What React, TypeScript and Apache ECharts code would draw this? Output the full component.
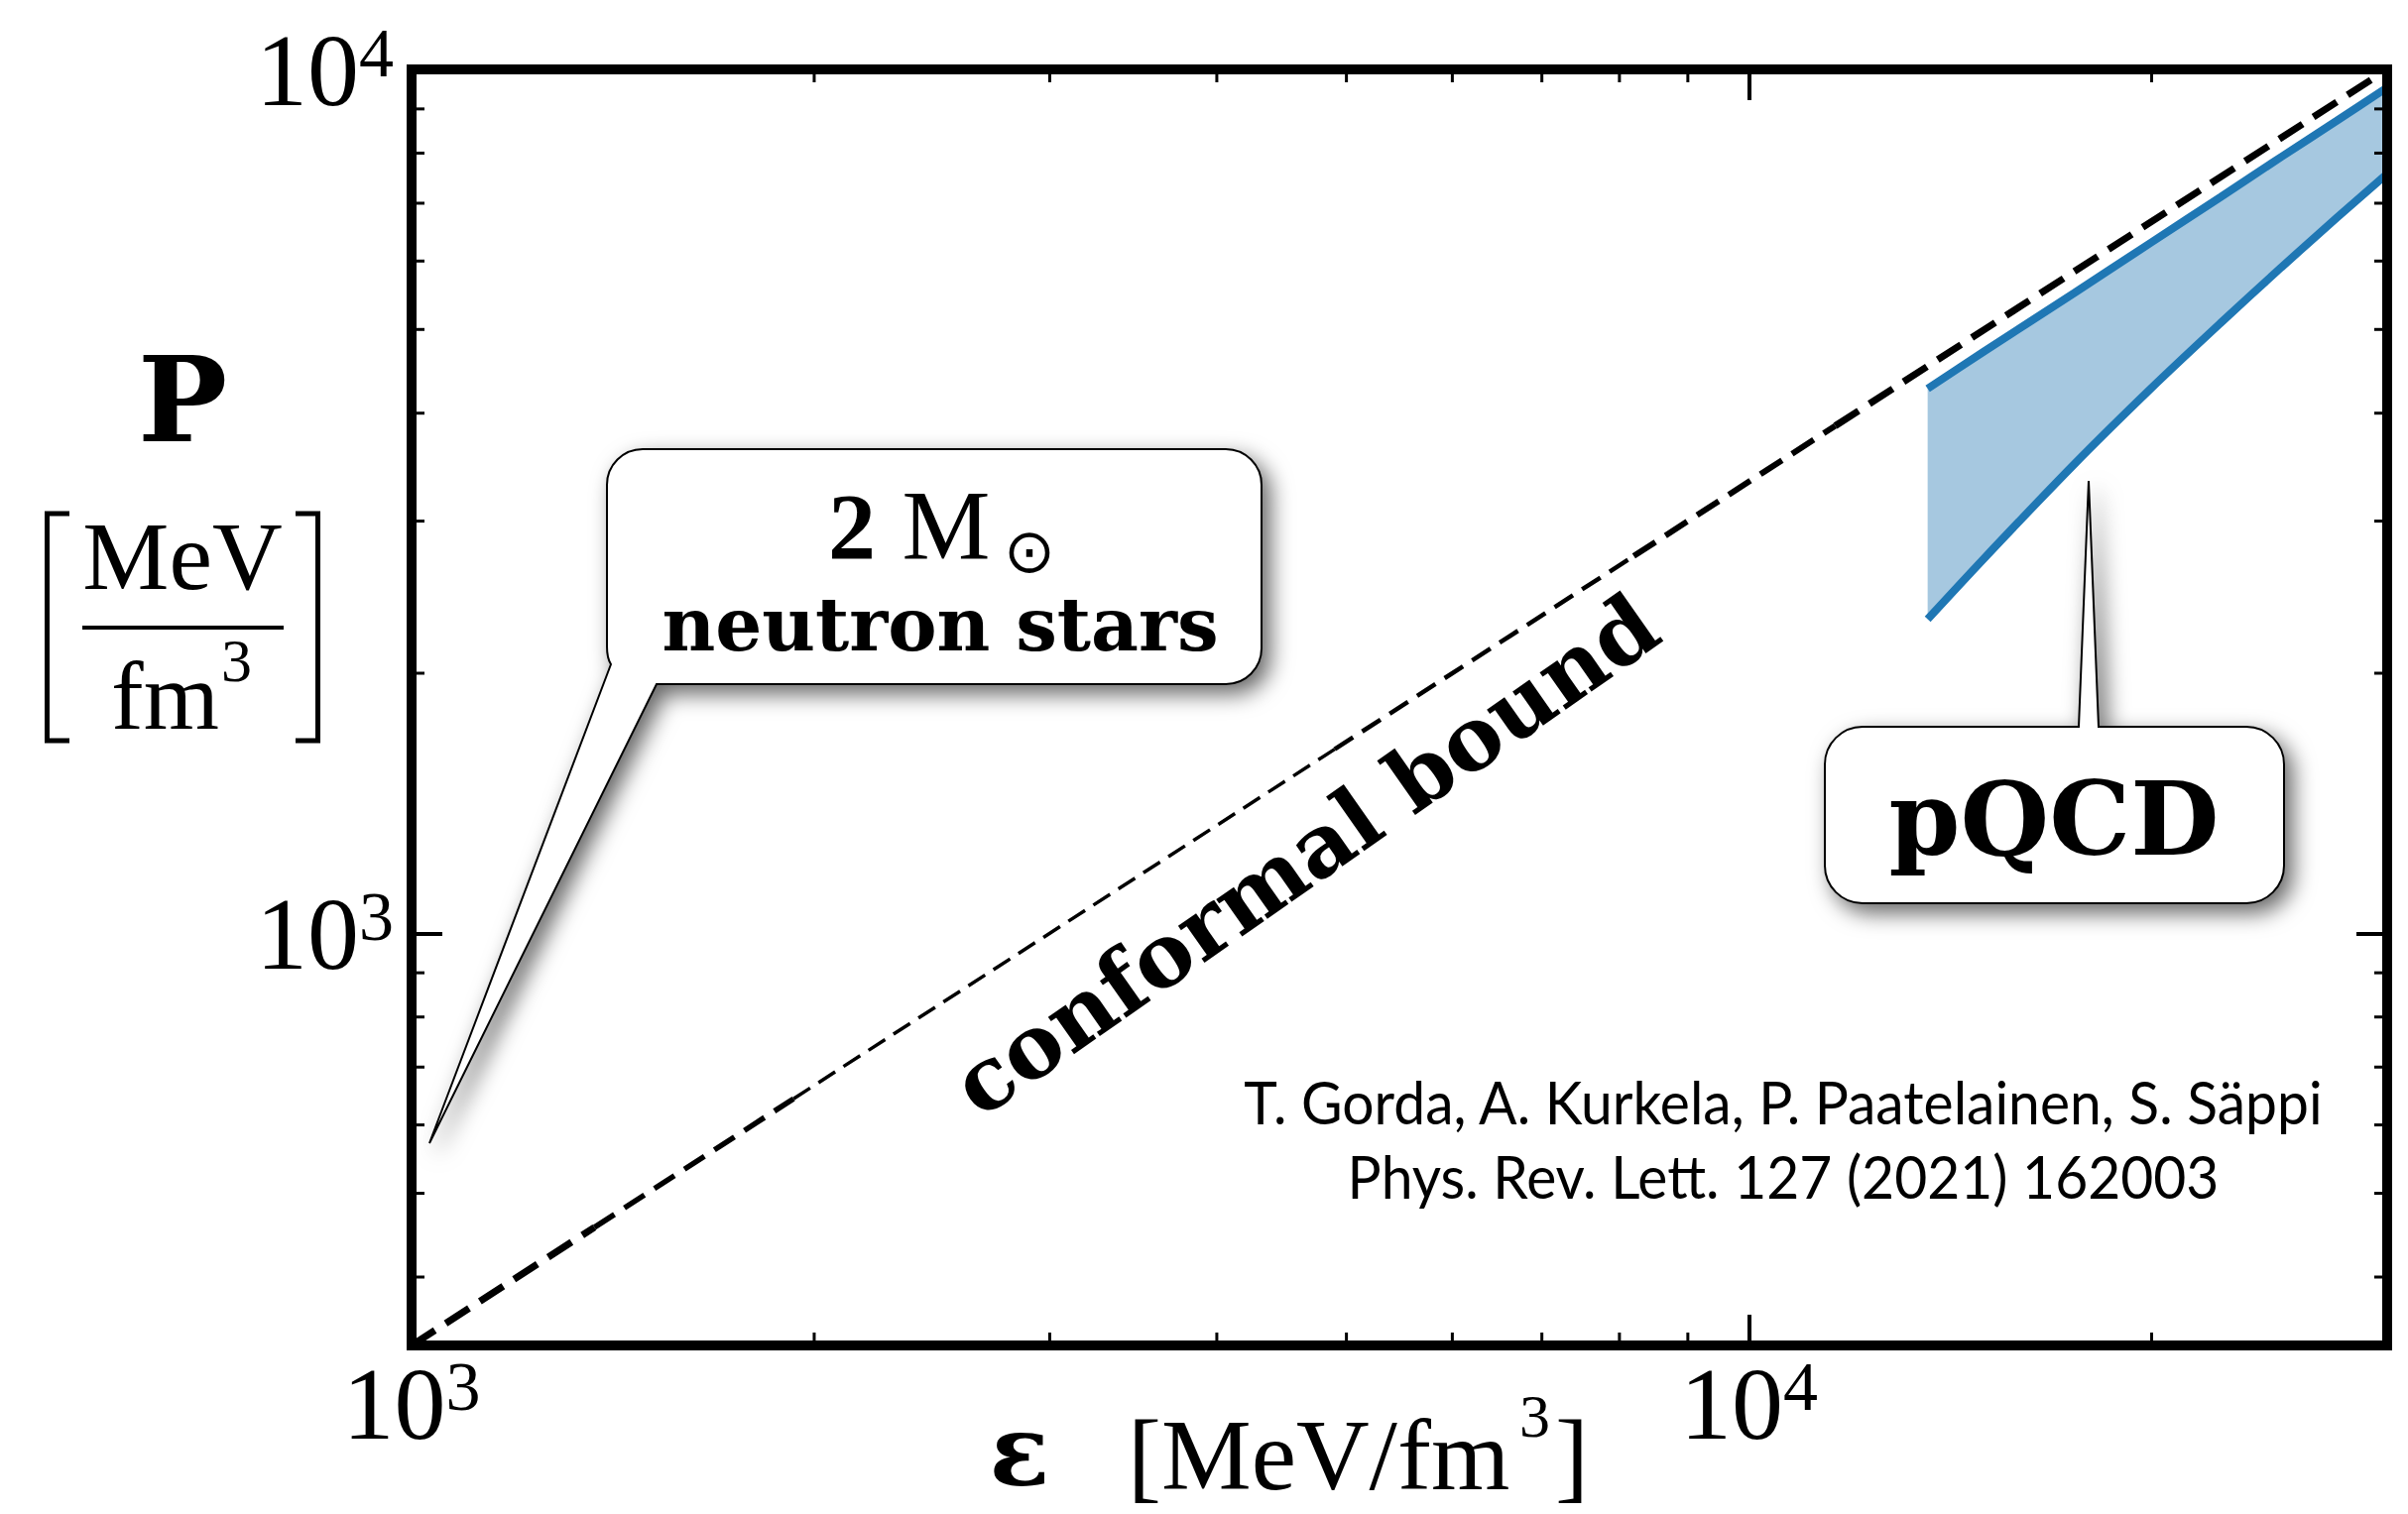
import React, { useEffect, useRef } from 'react';
import * as echarts from 'echarts';

// ---------- axes ----------
const xRange = [1000, 30000];
const yRange = [333.33, 10000];
const xMinorTicks = [2000, 3000, 4000, 5000, 6000, 7000, 8000, 9000, 20000];
const yMinorTicks = [400, 500, 600, 700, 800, 900, 2000, 3000, 4000, 5000, 6000, 7000, 8000, 9000];

// ---------- conformal bound P = eps/3 (segments, drawn with varying stroke) ----------
const conformalEps = [1000, 1370, 1930, 4900, 8200, 11600, 30000];
const conformalP = [333.33, 456.7, 643.3, 1633.3, 2733.3, 3866.7, 10000];
const conformalWidths = [7, 5.5, 3.5, 4.5, 6, 7];
const conformalDash = [[28, 13], [24, 12], [20, 10], [22, 11], [26, 12], [28, 13]];

// ---------- pQCD band ----------
const pqcdEps = [13600, 15000, 17500, 20000, 22500, 25000, 27500, 30000];
const pqcdUpper = [4270, 4720, 5510, 6310, 7110, 7920, 8720, 9530];
const pqcdLower = [2310, 2720, 3490, 4280, 5080, 5900, 6730, 7570];

// ---------- texts ----------
const citation = ['T. Gorda, A. Kurkela, P. Paatelainen, S. Säppi', 'Phys. Rev. Lett. 127 (2021) 162003'];

echarts.graphic.registerShape(
  'bubbleNS',
  echarts.graphic.extendPath(
    'M648 453 L1236 453 A36 36 0 0 1 1272 489 L1272 654 A36 36 0 0 1 1236 690 L662 690 L433 1153 L616 670 Q612 664 612 652 L612 489 A36 36 0 0 1 648 453 Z',
    {}
  )
);
echarts.graphic.registerShape(
  'bubbleQCD',
  echarts.graphic.extendPath(
    'M1878 733 L2096 733 L2106 485 L2116 733 L2265 733 A38 38 0 0 1 2303 771 L2303 873 A38 38 0 0 1 2265 911 L1878 911 A38 38 0 0 1 1840 873 L1840 771 A38 38 0 0 1 1878 733 Z',
    {}
  )
);

const SERIF = 'Liberation Serif';
const BOLDSERIF = 'DejaVu Serif';

function powLabel(v: number) {
  const e = Math.log10(v);
  const r = Math.round(e);
  if (Math.abs(e - r) > 1e-6) return '';
  return `{b|10}{s|${r}}`;
}

const labelRich = {
  b: { fontSize: 104, lineHeight: 104, fontFamily: SERIF, color: '#000' },
  s: { fontSize: 70, lineHeight: 70, fontFamily: SERIF, color: '#000', verticalAlign: 'top' },
};

function axisBase(min: number, max: number, position: string, showLabel: boolean, margin: number) {
  return {
    type: 'log',
    logBase: 10,
    min,
    max,
    position,
    z: 10,
    axisLine: { show: true, onZero: false, lineStyle: { color: '#000', width: 10, cap: 'square' } },
    axisTick: { show: true, inside: true, length: 31, lineStyle: { color: '#000', width: 4 } },
    minorTick: { show: false },
    splitLine: { show: false },
    axisLabel: showLabel
      ? { show: true, margin, formatter: powLabel, rich: labelRich }
      : { show: false },
  };
}

function txt(x: number, y: number, text: string, fontSize: number, fontFamily: string, opts: any = {}) {
  return {
    type: 'text',
    x,
    y,
    z: 100,
    rotation: opts.rotation || 0,
    scaleX: opts.scaleX || 1,
    style: {
      text,
      fontSize,
      fontFamily,
      fontWeight: opts.bold ? 'bold' : 'normal',
      fill: '#000',
      align: opts.align || 'center',
      textAlign: opts.align || 'center',
      verticalAlign: 'middle',
      textVerticalAlign: 'middle',
    },
  };
}

export default function App() {
  const ref = useRef<HTMLDivElement>(null);
  useEffect(() => {
    if (!ref.current) return;
    const chart = echarts.init(ref.current, undefined, { renderer: 'svg' });

    const tickData: number[][] = [
      ...xMinorTicks.map((v) => [v, yRange[0], 0]),
      ...yMinorTicks.map((v) => [xRange[0], v, 1]),
    ];

    const conformalSeries = conformalWidths.map((w, i) => ({
      type: 'line',
      name: 'conformal bound',
      data: [
        [conformalEps[i], conformalP[i]],
        [conformalEps[i + 1], conformalP[i + 1]],
      ],
      showSymbol: false,
      symbol: 'none',
      z: 4,
      silent: true,
      lineStyle: { color: '#000', width: w, type: conformalDash[i] },
    }));

    const shadow = {
      shadowBlur: 22,
      shadowColor: 'rgba(0,0,0,0.6)',
      shadowOffsetX: 8,
      shadowOffsetY: 9,
    };

    const option: any = {
      animation: false,
      backgroundColor: '#fff',
      grid: { left: 415, right: 21, top: 70, bottom: 170, containLabel: false, outerBoundsMode: 'none', show: false },
      xAxis: [axisBase(xRange[0], xRange[1], 'bottom', true, 6), axisBase(xRange[0], xRange[1], 'top', false, 8)],
      yAxis: [axisBase(yRange[0], yRange[1], 'left', true, 18), axisBase(yRange[0], yRange[1], 'right', false, 18)],
      series: [
        {
          type: 'custom',
          name: 'minor ticks',
          xAxisIndex: 0,
          yAxisIndex: 0,
          silent: true,
          clip: false,
          z: 9,
          data: tickData,
          renderItem: (params: any, api: any) => {
            const kind = api.value(2);
            const len = 13;
            const st = { stroke: '#000', lineWidth: 3 };
            if (kind === 0) {
              const v = api.value(0);
              const pb = api.coord([v, yRange[0]]);
              const pt = api.coord([v, yRange[1]]);
              return {
                type: 'group',
                children: [
                  { type: 'line', shape: { x1: pb[0], y1: pb[1], x2: pb[0], y2: pb[1] - len }, style: st },
                  { type: 'line', shape: { x1: pt[0], y1: pt[1], x2: pt[0], y2: pt[1] + len }, style: st },
                ],
              };
            }
            const v = api.value(1);
            const pl = api.coord([xRange[0], v]);
            const pr = api.coord([xRange[1], v]);
            return {
              type: 'group',
              children: [
                { type: 'line', shape: { x1: pl[0], y1: pl[1], x2: pl[0] + len, y2: pl[1] }, style: st },
                { type: 'line', shape: { x1: pr[0], y1: pr[1], x2: pr[0] - len, y2: pr[1] }, style: st },
              ],
            };
          },
        },
        {
          type: 'custom',
          name: 'pQCD band',
          silent: true,
          z: 2,
          data: [[pqcdEps[0], pqcdLower[0]]],
          renderItem: (params: any, api: any) => {
            const pts: number[][] = [];
            for (let i = 0; i < pqcdEps.length; i++) pts.push(api.coord([pqcdEps[i], pqcdUpper[i]]));
            for (let i = pqcdEps.length - 1; i >= 0; i--) pts.push(api.coord([pqcdEps[i], pqcdLower[i]]));
            return { type: 'polygon', shape: { points: pts }, style: { fill: '#a6c8e0' } };
          },
        },
        {
          type: 'line',
          name: 'pQCD upper',
          data: pqcdEps.map((e, i) => [e, pqcdUpper[i]]),
          showSymbol: false,
          symbol: 'none',
          smooth: 0.3,
          z: 3,
          lineStyle: { color: '#1f77b4', width: 8 },
        },
        {
          type: 'line',
          name: 'pQCD lower',
          data: pqcdEps.map((e, i) => [e, pqcdLower[i]]),
          showSymbol: false,
          symbol: 'none',
          smooth: 0.3,
          z: 3,
          lineStyle: { color: '#1f77b4', width: 8 },
        },
        ...conformalSeries,
      ],
      graphic: {
        elements: [
          // y axis name
          txt(184, 402, 'P', 120, BOLDSERIF, { bold: true }),
          txt(184, 561, 'MeV', 98, SERIF),
          { type: 'line', z: 100, shape: { x1: 83, y1: 633, x2: 286, y2: 633 }, style: { stroke: '#000', lineWidth: 4 } },
          txt(112, 702, 'fm', 98, SERIF, { align: 'left' }),
          txt(223, 666, '3', 62, SERIF, { align: 'left' }),
          { type: 'polyline', z: 100, shape: { points: [[70, 518], [47.5, 518], [47.5, 747], [70, 747]] }, style: { stroke: '#000', lineWidth: 5, fill: null } },
          { type: 'polyline', z: 100, shape: { points: [[298, 518], [320.5, 518], [320.5, 747], [298, 747]] }, style: { stroke: '#000', lineWidth: 5, fill: null } },
          // x axis name
          txt(1028, 1463, 'ε', 100, BOLDSERIF, { bold: true }),
          txt(1137, 1467, '[MeV/fm', 102, SERIF, { align: 'left' }),
          txt(1532, 1428, '3', 62, SERIF, { align: 'left' }),
          txt(1568, 1467, ']', 102, SERIF, { align: 'left' }),
          // bubbles
          { type: 'bubbleNS', x: 0, y: 0, z: 90, style: { fill: '#fff', stroke: '#000', lineWidth: 2, ...shadow } },
          { type: 'bubbleQCD', x: 0, y: 0, z: 90, style: { fill: '#fff', stroke: '#000', lineWidth: 2, ...shadow } },
          txt(859, 531, '2', 96, SERIF, { bold: true }),
          txt(954, 529, 'M', 100, SERIF),
          txt(1038, 555, '⊙', 62, 'DejaVu Sans'),
          txt(948, 630, 'neutron stars', 74, BOLDSERIF, { bold: true }),
          txt(2071, 825, 'pQCD', 103, BOLDSERIF, { bold: true }),
          // conformal label
          txt(1316, 862, 'conformal bound', 88, BOLDSERIF, { bold: true, rotation: (35 * Math.PI) / 180 }),
          // citation
          txt(1798, 1110, citation[0], 60, 'Lato', { scaleX: 0.95 }),
          txt(1798, 1185, citation[1], 60, 'Lato', { scaleX: 0.95 }),
        ],
      },
    };
    chart.setOption(option);
    return () => chart.dispose();
  }, []);
  return <div ref={ref} style={{ position: 'fixed', left: 0, top: 0, width: 2428, height: 1527 }} />;
}
